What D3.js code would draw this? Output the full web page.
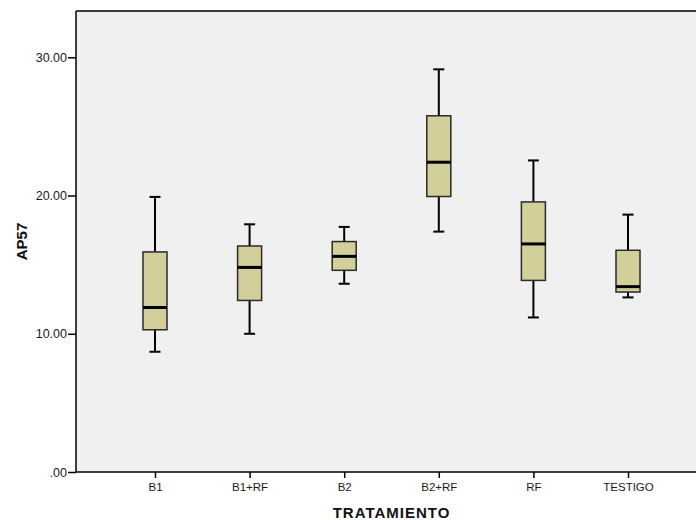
<!DOCTYPE html>
<html>
<head>
<meta charset="utf-8">
<script src="https://cdn.jsdelivr.net/npm/d3@7"></script>
<style>
  body { margin: 0; background: #fff; }
  svg { display: block; font-family: "Liberation Sans", Arial, sans-serif; }
</style>
</head>
<body>
<div id="chart"></div>
<script>
// box plot values
const categories = ["B1", "B1+RF", "B2", "B2+RF", "RF", "TESTIGO"];
const whiskerLow = [8.7, 10.0, 13.62, 17.39, 11.18, 12.63];
const q1 = [10.29, 12.41, 14.59, 19.93, 13.86, 13.02];
const medians = [11.9, 14.8, 15.6, 22.41, 16.5, 13.41];
const q3 = [15.92, 16.35, 16.67, 25.77, 19.54, 16.04];
const whiskerHigh = [19.9, 17.92, 17.73, 29.13, 22.54, 18.62];
const yTicks = [0, 10, 20, 30];

const w = 696;
const h = 520;
const margin = { top: 11, right: -11, bottom: 48, left: 76 };

const boxes = categories.map((c, i) => ({
    cat: c, lo: whiskerLow[i], q1: q1[i], med: medians[i], q3: q3[i], hi: whiskerHigh[i]
}));

const svg = d3.select("#chart").append("svg")
    .attr("width", w)
    .attr("height", h);

const xScale = d3.scalePoint()
    .domain(categories)
    .range([margin.left, w - margin.right])
    .padding(0.835);

const yScale = d3.scaleLinear()
    .domain([0, 33.35])
    .range([h - margin.bottom, margin.top]);

// plot background
svg.append("rect")
    .attr("x", margin.left)
    .attr("y", margin.top)
    .attr("width", w - margin.right - margin.left)
    .attr("height", h - margin.bottom - margin.top)
    .attr("fill", "#f0f0f0");

const yAxis = d3.axisLeft(yScale)
    .tickValues(yTicks)
    .tickSize(8)
    .tickPadding(1)
    .tickFormat(d => d === 0 ? ".00" : d3.format(".2f")(d));

svg.append("g")
    .attr("transform", `translate(${margin.left},0)`)
    .call(yAxis)
    .call(g => g.select(".domain").attr("stroke-width", 1.5).attr("d", `M0,${margin.top}V${h - margin.bottom}`))
    .call(g => g.selectAll(".tick line").attr("stroke-width", 1.5))
    .call(g => g.selectAll("text").attr("font-size", 12.5).attr("fill", "#1a1a1a").attr("font-family", "Liberation Sans, Arial, sans-serif"));

const xAxis = d3.axisBottom(xScale)
    .tickSize(6)
    .tickPadding(5);

svg.append("g")
    .attr("transform", `translate(0,${h - margin.bottom})`)
    .call(xAxis)
    .call(g => g.select(".domain").attr("stroke-width", 1.5).attr("d", `M${margin.left},0H${w}`))
    .call(g => g.selectAll(".tick line").attr("stroke-width", 1.5))
    .call(g => g.selectAll("text").attr("font-size", 11.5).attr("fill", "#1a1a1a").attr("font-family", "Liberation Sans, Arial, sans-serif"));

// top frame line
svg.append("line")
    .attr("x1", margin.left).attr("x2", w)
    .attr("y1", margin.top).attr("y2", margin.top)
    .attr("stroke", "#000")
    .attr("stroke-width", 1.5);

const boxW = 24;
const capW = 11;

const g = svg.selectAll(".box")
    .data(boxes)
    .enter()
    .append("g")
    .attr("class", "box")
    .attr("transform", d => `translate(${xScale(d.cat)},0)`);

// whiskers
g.append("line")
    .attr("x1", 0).attr("x2", 0)
    .attr("y1", d => yScale(d.hi)).attr("y2", d => yScale(d.q3))
    .attr("stroke", "#000").attr("stroke-width", 2);
g.append("line")
    .attr("x1", 0).attr("x2", 0)
    .attr("y1", d => yScale(d.q1)).attr("y2", d => yScale(d.lo))
    .attr("stroke", "#000").attr("stroke-width", 2);
g.append("line")
    .attr("x1", -capW / 2).attr("x2", capW / 2)
    .attr("y1", d => yScale(d.hi)).attr("y2", d => yScale(d.hi))
    .attr("stroke", "#000").attr("stroke-width", 2);
g.append("line")
    .attr("x1", -capW / 2).attr("x2", capW / 2)
    .attr("y1", d => yScale(d.lo)).attr("y2", d => yScale(d.lo))
    .attr("stroke", "#000").attr("stroke-width", 2);

// boxes
g.append("rect")
    .attr("x", -boxW / 2)
    .attr("width", boxW)
    .attr("y", d => yScale(d.q3))
    .attr("height", d => yScale(d.q1) - yScale(d.q3))
    .attr("fill", "#d3cf9a")
    .attr("stroke", "#2a2a2a")
    .attr("stroke-width", 1.5);

// medians
g.append("line")
    .attr("x1", -boxW / 2).attr("x2", boxW / 2)
    .attr("y1", d => yScale(d.med)).attr("y2", d => yScale(d.med))
    .attr("stroke", "#000").attr("stroke-width", 3);

// axis titles
svg.append("text")
    .attr("transform", `translate(27,${(margin.top + h - margin.bottom) / 2}) rotate(-90)`)
    .attr("text-anchor", "middle")
    .attr("font-size", 15)
    .attr("font-weight", "bold")
    .attr("fill", "#111")
    .text("AP57");

svg.append("text")
    .attr("x", (margin.left + w - margin.right) / 2)
    .attr("y", 518)
    .attr("text-anchor", "middle")
    .attr("font-size", 15)
    .attr("font-weight", "bold")
    .attr("letter-spacing", 1)
    .attr("fill", "#111")
    .text("TRATAMIENTO");
</script>
</body>
</html>
